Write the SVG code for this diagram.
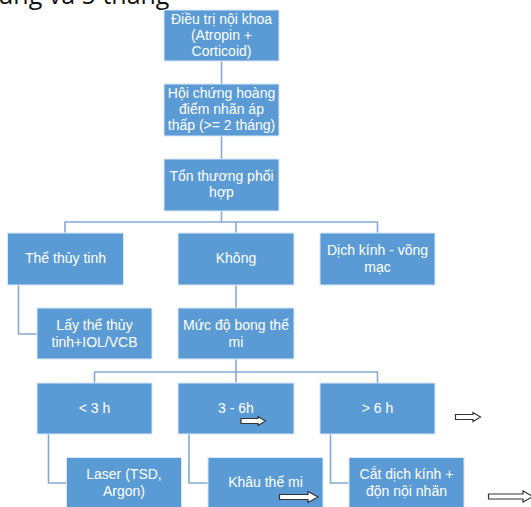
<svg xmlns="http://www.w3.org/2000/svg" width="531" height="507" viewBox="0 0 531 507">
<defs>
<style>
.box{fill:#5B9BD5;stroke:#DCE8F5;stroke-width:1}
.t{font-family:"Liberation Sans","Open Sans",sans-serif;font-size:14px;fill:#FFFFFF;text-anchor:middle}
.c{fill:none;stroke:#86AAD3;stroke-width:1.6}
.ar{fill:#FFFFFF;stroke:#333333;stroke-width:1.2}
</style>
</defs>
<rect width="531" height="507" fill="#FFFFFF"/>
<text x="-2" y="4" font-family="Open Sans,Noto Sans,sans-serif" font-size="25" fill="#111111">ung và 5 tháng</text>
<g id="connectors">
<path class="c" d="M221.5 61V84M221.5 136V159M221.5 211V222M65 233V222H377.5V233M236 222V233"/>
<path class="c" d="M236 285V308M18.5 285V334H37"/>
<path class="c" d="M236 359V372M94.5 383V372H377.5V383M236 372V383"/>
<path class="c" d="M48.5 434V483H67M189 434V483H208M330.5 434V483H349"/>
</g>
<g id="n1"><rect class="box" x="164" y="10" width="115" height="51"/><text class="t"><tspan x="221.5" y="24">Điều trị nội khoa</tspan><tspan x="221.5" y="40">(Atropin +</tspan><tspan x="221.5" y="56">Corticoid)</tspan></text></g>
<g id="n2"><rect class="box" x="164" y="84" width="115" height="52"/><text class="t"><tspan x="221.5" y="98">Hội chứng hoàng</tspan><tspan x="221.5" y="114">điểm nhãn áp</tspan><tspan x="221.5" y="130">thấp (&gt;= 2 tháng)</tspan></text></g>
<g id="n3"><rect class="box" x="164" y="159" width="115" height="52"/><text class="t"><tspan x="221.5" y="181">Tổn thương phối</tspan><tspan x="221.5" y="197">hợp</tspan></text></g>
<g id="n4"><rect class="box" x="7.5" y="233" width="116" height="52"/><text class="t" x="65.5" y="263">Thể thủy tinh</text></g>
<g id="n5"><rect class="box" x="178" y="233" width="116" height="52"/><text class="t" x="236" y="263">Không</text></g>
<g id="n6"><rect class="box" x="320" y="233" width="115" height="52"/><text class="t"><tspan x="377.5" y="255">Dịch kính - võng</tspan><tspan x="377.5" y="272">mạc</tspan></text></g>
<g id="n7"><rect class="box" x="37" y="308" width="115" height="51"/><text class="t"><tspan x="94.5" y="330">Lấy thể thủy</tspan><tspan x="94.5" y="347">tinh+IOL/VCB</tspan></text></g>
<g id="n8"><rect class="box" x="178" y="308" width="116" height="51"/><text class="t"><tspan x="236" y="330">Mức độ bong thể</tspan><tspan x="236" y="347">mi</tspan></text></g>
<g id="n9"><rect class="box" x="37" y="383" width="115" height="51"/><text class="t" x="94.5" y="413">&lt; 3 h</text></g>
<g id="n10"><rect class="box" x="178" y="383" width="116" height="51"/><text class="t" x="236" y="413">3 - 6h</text></g>
<g id="n11"><rect class="box" x="320" y="383" width="115" height="51"/><text class="t" x="377.5" y="413">&gt; 6 h</text></g>
<g id="n12"><rect class="box" x="66.5" y="457.5" width="115" height="52"/><text class="t"><tspan x="124" y="479">Laser (TSD,</tspan><tspan x="124" y="496">Argon)</tspan></text></g>
<g id="n13"><rect class="box" x="208" y="457.5" width="115" height="52"/><text class="t" x="265.5" y="487">Khâu thế mi</text></g>
<g id="n14"><rect class="box" x="349" y="457.5" width="115" height="52"/><text class="t"><tspan x="406.5" y="479">Cắt dịch kính +</tspan><tspan x="406.5" y="496">độn nội nhãn</tspan></text></g>
<g id="arrows">
<path class="ar" d="M241 418.5H258V416.5L265.5 421L258 425.5V423.5H241Z"/>
<path class="ar" d="M455.5 414.5H473V412.5L480.5 417L473 421.5V419.5H455.5Z"/>
<path class="ar" d="M279.5 494.5H308V491.5L318 497L308 502.5V499.5H279.5Z"/>
<path class="ar" d="M488.5 494H523V491L533 496.5L523 502V499H488.5Z"/>
</g>
</svg>
